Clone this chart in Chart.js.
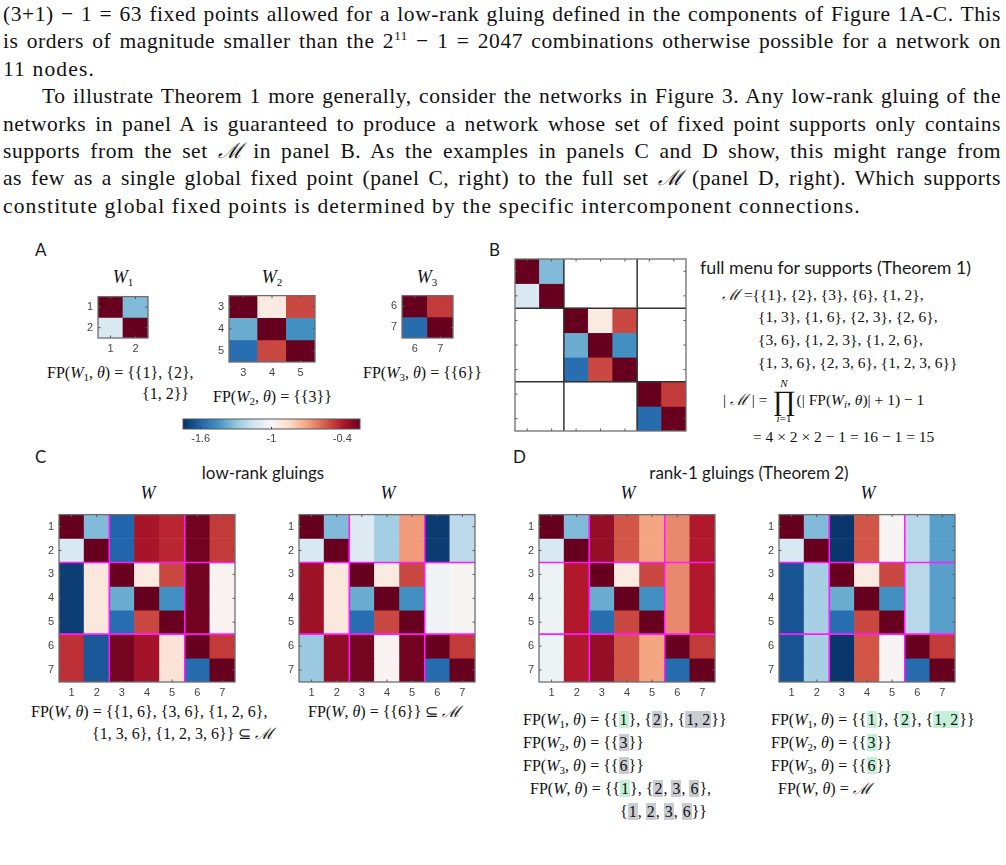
<!DOCTYPE html>
<html>
<head>
<meta charset="utf-8">
<script src="https://cdn.jsdelivr.net/npm/chart.js@4.4.1/dist/chart.umd.min.js"></script>
<style>
  body { margin: 0; background: #fff; }
  #page { position: relative; width: 1006px; height: 865px; overflow: hidden; color: #111; font-family: "Liberation Serif", serif; }
  .t { position: absolute; white-space: nowrap; line-height: 20px; }
  .m { font-size: 16px; }
  .mb { font-size: 15.5px; }
  .w { font-size: 18px; }
  .s { font-family: Lato, "Noto Sans", sans-serif; font-size: 17px; color: #1a1a1a; }
  .c { text-align: center; }
  sub { font-size: 11px; vertical-align: -3px; line-height: 0; }
  sup { font-size: 13px; vertical-align: 8px; line-height: 0; }
  .g { background: #c3f0d6; padding: 0 1px; }
  .k { background: #c9ccd1; padding: 0 1px; }
  #para { position: absolute; left: 3px; top: 1px; width: 998px; font-size: 21.5px; line-height: 27.4px; letter-spacing: 0.55px; }
  #para div { height: 27.4px; overflow: hidden; text-align: justify; text-align-last: justify; }
  #para div.l { text-align-last: left; letter-spacing: 1.15px; }
  canvas { position: absolute; }
  .prod { display: inline-flex; flex-direction: column; align-items: center; vertical-align: middle; line-height: 1; margin: 0 1px; }
  .prod .lim { font-size: 11px; line-height: 11px; }
  .prod .big { font-size: 28px; line-height: 24px; }
</style>
</head>
<body>
<div id="page">
  <div id="para">
    <div>(3+1) &minus; 1 = 63 fixed points allowed for a low-rank gluing defined in the components of Figure 1A-C. This</div>
    <div>is orders of magnitude smaller than the 2<sup>11</sup> &minus; 1 = 2047 combinations otherwise possible for a network on</div>
    <div class="l">11 nodes.</div>
    <div style="padding-left:39px">To illustrate Theorem 1 more generally, consider the networks in Figure 3. Any low-rank gluing of the</div>
    <div>networks in panel A is guaranteed to produce a network whose set of fixed point supports only contains</div>
    <div>supports from the set <i>ℳ</i> in panel B. As the examples in panels C and D show, this might range from</div>
    <div>as few as a single global fixed point (panel C, right) to the full set <i>ℳ</i> (panel D, right). Which supports</div>
    <div class="l">constitute global fixed points is determined by the specific intercomponent connections.</div>
  </div>

  <!-- panel A -->
  <div class="t s" style="left:35px;top:240px">A</div>
  <div class="t s" style="left:489px;top:240px">B</div>
  <div class="t w c" style="left:93px;top:267px;width:60px"><i>W</i><sub>1</sub></div>
  <div class="t w c" style="left:242px;top:267px;width:60px"><i>W</i><sub>2</sub></div>
  <div class="t w c" style="left:397px;top:267px;width:60px"><i>W</i><sub>3</sub></div>
  <div class="t m" style="left:47px;top:363px">FP(<i>W</i><sub>1</sub>, <i>θ</i>) = {{1}, {2},</div>
  <div class="t m" style="left:142px;top:384px">{1, 2}}</div>
  <div class="t m" style="left:213px;top:387px">FP(<i>W</i><sub>2</sub>, <i>θ</i>) = {{3}}</div>
  <div class="t m" style="left:363px;top:363px">FP(<i>W</i><sub>3</sub>, <i>θ</i>) = {{6}}</div>

  <!-- panel B text -->
  <div class="t s" style="left:700px;top:257px;font-size:17.8px">full menu for supports (Theorem 1)</div>
  <div class="t mb" style="left:722px;top:285px"><i>ℳ</i> ={{1}, {2}, {3}, {6}, {1, 2},</div>
  <div class="t mb" style="left:758px;top:307px">{1, 3}, {1, 6}, {2, 3}, {2, 6},</div>
  <div class="t mb" style="left:758px;top:330px">{3, 6}, {1, 2, 3}, {1, 2, 6},</div>
  <div class="t mb" style="left:758px;top:353px">{1, 3, 6}, {2, 3, 6}, {1, 2, 3, 6}}</div>
  <div class="t mb" style="left:723px;top:378px;line-height:44px">| <i>ℳ</i> | = <span class="prod"><span class="lim"><i>N</i></span><span class="big">∏</span><span class="lim"><i>i</i>=1</span></span>(| FP(<i>W<sub>i</sub></i>, <i>θ</i>)| + 1) &minus; 1</div>
  <div class="t mb" style="left:753px;top:427px">= 4 × 2 × 2 &minus; 1 = 16 &minus; 1 = 15</div>

  <!-- panel C -->
  <div class="t s" style="left:35px;top:447px">C</div>
  <div class="t s c" style="left:163px;top:463px;width:200px">low-rank gluings</div>
  <div class="t w c" style="left:118px;top:483px;width:60px"><i>W</i></div>
  <div class="t w c" style="left:358px;top:483px;width:60px"><i>W</i></div>
  <div class="t m" style="left:31px;top:702px">FP(<i>W</i>, <i>θ</i>) = {{1, 6}, {3, 6}, {1, 2, 6},</div>
  <div class="t m" style="left:92px;top:724px">{1, 3, 6}, {1, 2, 3, 6}} ⊆ <i>ℳ</i></div>
  <div class="t m" style="left:308px;top:702px">FP(<i>W</i>, <i>θ</i>) = {{6}} ⊆ <i>ℳ</i></div>

  <!-- panel D -->
  <div class="t s" style="left:513px;top:447px">D</div>
  <div class="t s c" style="left:629px;top:463px;width:240px">rank-1 gluings (Theorem 2)</div>
  <div class="t w c" style="left:598px;top:483px;width:60px"><i>W</i></div>
  <div class="t w c" style="left:838px;top:483px;width:60px"><i>W</i></div>
  <div class="t m" style="left:523px;top:710px">FP(<i>W</i><sub>1</sub>, <i>θ</i>) = {{<span class="g">1</span>}, {<span class="k">2</span>}, {<span class="k">1, 2</span>}}</div>
  <div class="t m" style="left:523px;top:733px">FP(<i>W</i><sub>2</sub>, <i>θ</i>) = {{<span class="k">3</span>}}</div>
  <div class="t m" style="left:523px;top:756px">FP(<i>W</i><sub>3</sub>, <i>θ</i>) = {{<span class="k">6</span>}}</div>
  <div class="t m" style="left:530px;top:779px">FP(<i>W</i>, <i>θ</i>) = {{<span class="g">1</span>}, {<span class="k">2</span>, <span class="k">3</span>, <span class="k">6</span>},</div>
  <div class="t m" style="left:620px;top:802px">{<span class="k">1</span>, <span class="k">2</span>, <span class="k">3</span>, <span class="k">6</span>}}</div>
  <div class="t m" style="left:771px;top:710px">FP(<i>W</i><sub>1</sub>, <i>θ</i>) = {{<span class="g">1</span>}, {<span class="g">2</span>}, {<span class="g">1, 2</span>}}</div>
  <div class="t m" style="left:771px;top:733px">FP(<i>W</i><sub>2</sub>, <i>θ</i>) = {{<span class="g">3</span>}}</div>
  <div class="t m" style="left:771px;top:756px">FP(<i>W</i><sub>3</sub>, <i>θ</i>) = {{<span class="g">6</span>}}</div>
  <div class="t m" style="left:778px;top:779px">FP(<i>W</i>, <i>θ</i>) = <i>ℳ</i></div>
</div>

<script>
// colour scale (RdBu, blue = low)
const rdbuStops = ['#053061', '#2166ac', '#4393c3', '#92c5de', '#d1e5f0', '#f7f7f7',
                   '#fddbc7', '#f4a582', '#d6604d', '#b2182b', '#67001f'];
const cbMin = -1.75, cbMax = -0.25;
const cbTicks = [-1.6, -1, -0.4];

// node labels
const nodes = ['1', '2', '3', '4', '5', '6', '7'];
const w1Nodes = ['1', '2'];
const w2Nodes = ['3', '4', '5'];
const w3Nodes = ['6', '7'];
const blockEdges = [2, 5];

// component networks
const w1 = [
  [-0.25, -1.33],
  [-1.12, -0.25]
];
const w2 = [
  [-0.25, -0.93, -0.5],
  [-1.375, -0.25, -1.46],
  [-1.57, -0.5, -0.25]
];
const w3 = [
  [-0.25, -0.47],
  [-1.58, -0.25]
];

// panel B: block diagonal, empty off-diagonal blocks
const menuW = [
  [-0.25, -1.33, null, null, null, null, null],
  [-1.12, -0.25, null, null, null, null, null],
  [null, null, -0.25, -0.93, -0.5, null, null],
  [null, null, -1.375, -0.25, -1.46, null, null],
  [null, null, -1.57, -0.5, -0.25, null, null],
  [null, null, null, null, null, -0.25, -0.47],
  [null, null, null, null, null, -1.58, -0.25]
];

// panel C: low-rank gluings
const lowRankA = [
  [-0.25, -1.33, -1.6, -0.38, -0.43, -0.27, -0.47],
  [-1.12, -0.25, -1.6, -0.38, -0.43, -0.27, -0.47],
  [-1.71, -0.92, -0.25, -0.93, -0.5, -0.27, -0.98],
  [-1.71, -0.92, -1.375, -0.25, -1.46, -0.27, -0.98],
  [-1.71, -0.92, -1.57, -0.5, -0.25, -0.27, -0.98],
  [-0.45, -1.64, -0.28, -0.37, -0.9, -0.25, -0.47],
  [-0.45, -1.64, -0.28, -0.37, -0.9, -1.58, -0.25]
];
const lowRankB = [
  [-0.25, -1.33, -1.1, -1.26, -0.68, -1.72, -1.2],
  [-1.12, -0.25, -1.1, -1.26, -0.68, -1.72, -1.2],
  [-0.36, -0.92, -0.25, -0.93, -0.5, -1.03, -0.99],
  [-0.36, -0.92, -1.375, -0.25, -1.46, -1.03, -0.99],
  [-0.36, -0.92, -1.57, -0.5, -0.25, -1.03, -0.99],
  [-1.28, -0.33, -0.28, -0.98, -0.27, -0.25, -0.47],
  [-1.28, -0.33, -0.28, -0.98, -0.27, -1.58, -0.25]
];

// panel D: rank-1 gluings
const rankOneA = [
  [-0.25, -1.33, -0.34, -0.53, -0.7, -0.64, -0.4],
  [-1.12, -0.25, -0.34, -0.53, -0.7, -0.64, -0.4],
  [-1.04, -0.4, -0.25, -0.93, -0.5, -0.64, -0.4],
  [-1.04, -0.4, -1.375, -0.25, -1.46, -0.64, -0.4],
  [-1.04, -0.4, -1.57, -0.5, -0.25, -0.64, -0.4],
  [-1.04, -0.4, -0.34, -0.53, -0.7, -0.25, -0.47],
  [-1.04, -0.4, -0.34, -0.53, -0.7, -1.58, -0.25]
];
const rankOneB = [
  [-0.25, -1.33, -1.73, -0.53, -0.99, -1.21, -1.41],
  [-1.12, -0.25, -1.73, -0.53, -0.99, -1.21, -1.41],
  [-1.65, -1.25, -0.25, -0.93, -0.5, -1.21, -1.41],
  [-1.65, -1.25, -1.375, -0.25, -1.46, -1.21, -1.41],
  [-1.65, -1.25, -1.57, -0.5, -0.25, -1.21, -1.41],
  [-1.65, -1.25, -1.73, -0.53, -0.99, -0.25, -0.47],
  [-1.65, -1.25, -1.73, -0.53, -0.99, -1.58, -0.25]
];

function hexRgb(h) {
  return [1, 3, 5].map(i => parseInt(h.substr(i, 2), 16));
}

function rdbu(v) {
  let t = (v - cbMin) / (cbMax - cbMin);
  t = Math.max(0, Math.min(1, t));
  const p = t * (rdbuStops.length - 1);
  const i = Math.min(Math.floor(p), rdbuStops.length - 2);
  const f = p - i;
  const a = hexRgb(rdbuStops[i]), b = hexRgb(rdbuStops[i + 1]);
  return 'rgb(' + a.map((c, k) => Math.round(c + (b[k] - c) * f)).join(',') + ')';
}

const tickFont = { family: '"Liberation Sans", Arial, sans-serif', size: 11 };

// frame, block lines and inward tick marks, drawn on top of the cells
const heatFrame = {
  id: 'heatFrame',
  afterDatasetsDraw(chart, args, o) {
    const { ctx, chartArea: a, scales: { x, y } } = chart;
    ctx.save();
    ctx.strokeStyle = o.lineColor;
    ctx.lineWidth = o.lineWidth;
    (o.bounds || []).forEach(b => {
      const px = x.getPixelForValue(b - 0.5);
      const py = y.getPixelForValue(b);
      ctx.beginPath(); ctx.moveTo(px, a.top); ctx.lineTo(px, a.bottom); ctx.stroke();
      ctx.beginPath(); ctx.moveTo(a.left, py); ctx.lineTo(a.right, py); ctx.stroke();
    });
    ctx.strokeStyle = '#555';
    ctx.lineWidth = 1;
    const n = chart.data.labels.length;
    for (let i = 0; i < n; i++) {
      const px = x.getPixelForValue(i), py = y.getPixelForValue(i + 0.5);
      ctx.beginPath();
      ctx.moveTo(px, a.bottom); ctx.lineTo(px, a.bottom - 2.5);
      ctx.moveTo(px, a.top); ctx.lineTo(px, a.top + 2.5);
      ctx.moveTo(a.left, py); ctx.lineTo(a.left + 2.5, py);
      ctx.moveTo(a.right, py); ctx.lineTo(a.right - 2.5, py);
      ctx.stroke();
    }
    ctx.strokeStyle = '#6e6e6e';
    ctx.lineWidth = 1.3;
    ctx.strokeRect(a.left, a.top, a.width, a.height);
    ctx.restore();
  }
};

function addCanvas(left, top, w, h) {
  const c = document.createElement('canvas');
  c.width = w; c.height = h;
  c.style.left = left + 'px'; c.style.top = top + 'px';
  c.style.width = w + 'px'; c.style.height = h + 'px';
  document.getElementById('page').appendChild(c);
  return c;
}

// matrix area at (left, top) with size w x h
function heatmap(left, top, w, h, rowLabels, colLabels, values, opt) {
  const ticks = opt.ticks !== false;
  const padL = ticks ? 24 : 3, padT = 3, padR = 3, padB = ticks ? 20 : 3;
  const canvas = addCanvas(left - padL, top - padT, w + padL + padR, h + padT + padB);
  const n = rowLabels.length;
  return new Chart(canvas, {
    type: 'bar',
    data: {
      labels: colLabels,
      datasets: values.map((row, r) => ({
        data: row.map(v => v === null ? null : [r, r + 1]),
        backgroundColor: row.map(v => v === null ? 'rgba(0,0,0,0)' : rdbu(v)),
        borderWidth: 0,
        barPercentage: 1,
        categoryPercentage: 1,
        grouped: false
      }))
    },
    options: {
      responsive: false,
      animation: false,
      events: [],
      layout: { padding: ticks ? { top: padT, right: padR, left: 0, bottom: 0 } : 3 },
      plugins: {
        legend: { display: false },
        tooltip: { enabled: false },
        heatFrame: { bounds: opt.bounds, lineColor: opt.lineColor, lineWidth: opt.lineWidth }
      },
      scales: {
        x: {
          display: ticks,
          grid: { display: false, drawTicks: false },
          border: { display: false },
          ticks: { font: tickFont, color: '#444', padding: 4, maxRotation: 0 },
          afterFit: s => { s.height = padB; }
        },
        y: {
          display: ticks,
          min: 0,
          max: n,
          reverse: true,
          grid: { display: false, drawTicks: false },
          border: { display: false },
          afterBuildTicks: s => { s.ticks = rowLabels.map((l, i) => ({ value: i + 0.5 })); },
          ticks: { font: tickFont, color: '#444', padding: 5, callback: v => rowLabels[Math.floor(v)] },
          afterFit: s => { s.width = padL; }
        }
      }
    },
    plugins: [heatFrame]
  });
}

const magenta = { bounds: blockEdges, lineColor: '#ff1aff', lineWidth: 1.6 };

heatmap(98, 288, 50, 50, w1Nodes, w1Nodes, w1, {});
heatmap(229, 287, 86, 75, w2Nodes, w2Nodes, w2, {});
heatmap(402, 287, 51, 51, w3Nodes, w3Nodes, w3, {});
heatmap(512, 259, 174, 175, nodes, nodes, menuW, { ticks: false, bounds: blockEdges, lineColor: '#333', lineWidth: 1.5 });
heatmap(59, 506, 176, 176, nodes, nodes, lowRankA, magenta);
heatmap(299, 506, 176, 176, nodes, nodes, lowRankB, magenta);
heatmap(539, 506, 176, 176, nodes, nodes, rankOneA, magenta);
heatmap(779, 506, 176, 176, nodes, nodes, rankOneB, magenta);

// colour bar
const cbPlugin = {
  id: 'cbPlugin',
  beforeDatasetsDraw(chart) {
    const { ctx, chartArea: a, scales: { x } } = chart;
    const g = ctx.createLinearGradient(a.left, 0, a.right, 0);
    rdbuStops.forEach((c, i) => g.addColorStop(i / (rdbuStops.length - 1), c));
    ctx.save();
    ctx.fillStyle = g;
    ctx.fillRect(a.left, a.top, a.width, a.height);
    ctx.strokeStyle = '#333';
    ctx.lineWidth = 1;
    cbTicks.forEach(v => {
      const px = x.getPixelForValue(v);
      ctx.beginPath(); ctx.moveTo(px, a.bottom); ctx.lineTo(px, a.bottom - 2); ctx.stroke();
    });
    ctx.strokeStyle = '#555';
    ctx.strokeRect(a.left, a.top, a.width, a.height);
    ctx.restore();
  }
};

new Chart(addCanvas(169, 418, 205, 31), {
  type: 'scatter',
  data: { datasets: [] },
  options: {
    responsive: false,
    animation: false,
    events: [],
    layout: { padding: { left: 14, right: 14, top: 1, bottom: 0 } },
    plugins: { legend: { display: false }, tooltip: { enabled: false } },
    scales: {
      x: {
        min: cbMin,
        max: cbMax,
        grid: { display: false, drawTicks: false },
        border: { display: false },
        afterBuildTicks: s => { s.ticks = cbTicks.map(v => ({ value: v })); },
        ticks: { font: tickFont, color: '#444', padding: 3, callback: v => String(v) },
        afterFit: s => { s.height = 20; }
      },
      y: { display: false, min: 0, max: 1 }
    }
  },
  plugins: [cbPlugin]
});
</script>
</body>
</html>
